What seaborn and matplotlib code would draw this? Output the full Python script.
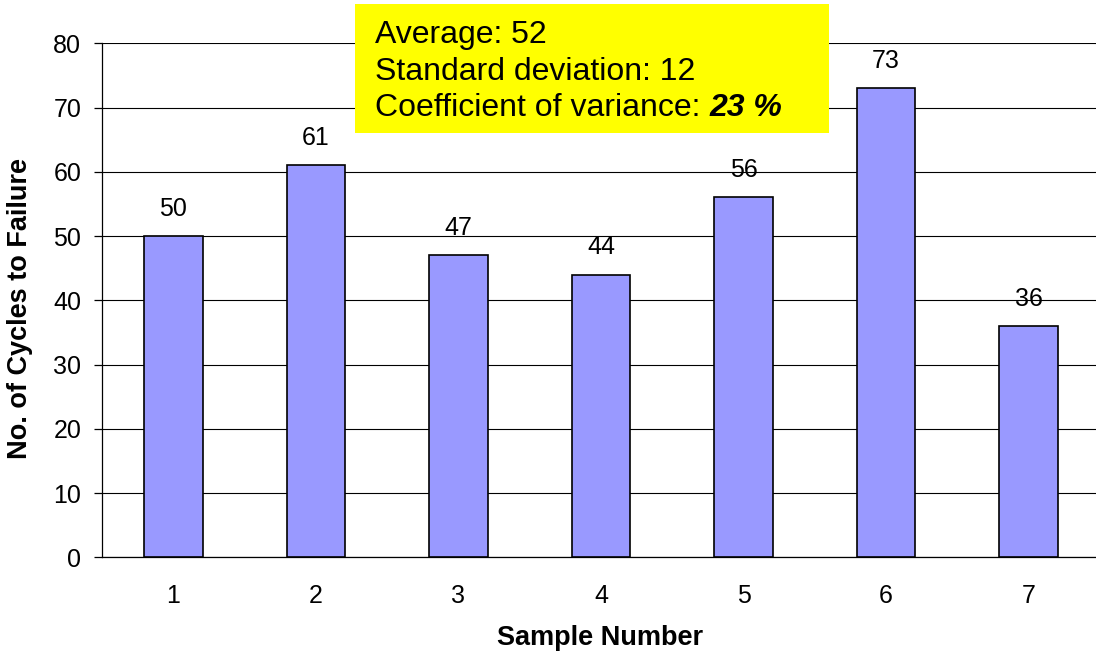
import matplotlib
matplotlib.use('Agg')
import matplotlib.pyplot as plt
import seaborn as sns
import pandas as pd
from matplotlib.ticker import FixedLocator

# values
samples = ['1', '2', '3', '4', '5', '6', '7']
cycles = [50, 61, 47, 44, 56, 73, 36]
y_ticks = [0, 10, 20, 30, 40, 50, 60, 70, 80]
stats_lines = ['Average: 52', 'Standard deviation: 12', 'Coefficient of variance: ']
cov_text = '23 %'

sns.set_style('white')
plt.rcParams['font.family'] = ['Liberation Sans', 'DejaVu Sans']
plt.rcParams['text.color'] = 'black'
plt.rcParams['axes.labelcolor'] = 'black'
plt.rcParams['xtick.color'] = 'black'
plt.rcParams['ytick.color'] = 'black'

df = pd.DataFrame({'sample': samples, 'cycles': cycles})

fig = plt.figure(figsize=(10.96, 6.56), dpi=100)
ax = fig.add_axes([102 / 1096, 1 - 557.3 / 656, 998 / 1096, 514 / 656])

sns.barplot(data=df, x='sample', y='cycles', color='#9999FF', saturation=1,
            width=0.41, edgecolor='black', linewidth=1.2, ax=ax, zorder=3)

ax.set_xlim(-0.5, 6.5)
ax.set_ylim(0, 80)
ax.set_yticks(y_ticks)
ax.yaxis.grid(True, color='black', linewidth=0.8, zorder=0)
ax.set_axisbelow(True)

for s in ['top', 'right']:
    ax.spines[s].set_visible(False)
for s in ['left', 'bottom']:
    ax.spines[s].set_color('black')
    ax.spines[s].set_linewidth(0.9)

# category boundaries as minor ticks on x
ax.xaxis.set_minor_locator(FixedLocator([i - 0.5 for i in range(len(samples) + 1)]))
ax.tick_params(axis='x', which='major', length=0, pad=19, labelsize=18)
ax.tick_params(axis='x', which='minor', length=6, width=0.9, color='black', direction='out')
ax.tick_params(axis='y', which='major', length=6, width=0.9, color='black',
               direction='out', pad=9, labelsize=18, left=True)

for i, v in enumerate(cycles):
    ax.annotate(str(v), (i, v), xytext=(0, 11), textcoords='offset points',
                ha='center', va='bottom', fontsize=18)

ax.set_xlabel('Sample Number', fontsize=19.5, fontweight='bold', va='center')
ax.set_ylabel('No. of Cycles to Failure', fontsize=19.5, fontweight='bold', va='center')
ax.xaxis.set_label_coords((600 - 102) / 998, -(638 - 557.3) / 514)
ax.yaxis.set_label_coords(-(102 - 20) / 998, (557.3 - 308.5) / 514)

# yellow statistics box
box = plt.Rectangle((355 / 1096, 1 - 133 / 656), (829 - 355) / 1096, 129 / 656,
                    transform=fig.transFigure, facecolor='#FFFF00', edgecolor='none', zorder=5)
fig.patches.append(box)
baselines = [43, 79.5, 116]
for line, yb in zip(stats_lines, baselines):
    t = fig.text(375 / 1096, 1 - yb / 656, line, fontsize=23, va='baseline', ha='left', zorder=6)
fig.canvas.draw()
bb = t.get_window_extent()
fig.text(bb.x1 / 1096, 1 - baselines[-1] / 656, cov_text, fontsize=23,
         fontweight='bold', fontstyle='italic', va='baseline', ha='left', zorder=6)

fig.savefig('out.png', dpi=100)
